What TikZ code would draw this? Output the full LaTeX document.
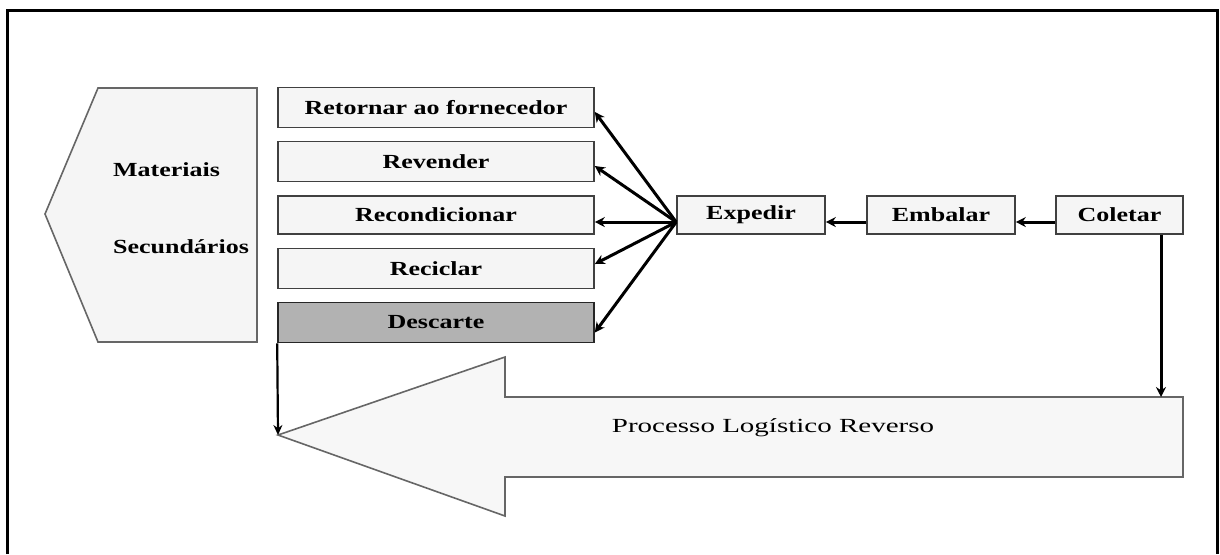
\documentclass[tikz,border=0pt]{standalone}
\usepackage{fontspec}
\usepackage{graphicx}
\setmainfont{Liberation Serif}
\usetikzlibrary{arrows.meta}

% wide bold lettering used in every box
\newcommand{\widetxt}[1]{\scalebox{1.3}[1]{\bfseries #1}}

\tikzset{
  stagebox/.style={draw=black!75, line width=0.8pt, fill=black!4, rectangle,
    inner sep=0pt, minimum height=20pt, font=\fontsize{10}{12}\selectfont},
  flow/.style={line width=1.5pt, -{Stealth[length=5pt,width=5pt]}},
}

\begin{document}
\begin{tikzpicture}[x=0.5pt,y=-0.5pt]
  \useasboundingbox (0,0) rectangle (1220,554);

  % outer frame, open at the bottom
  \draw[line width=1.5pt] (7.5,554) -- (7.5,10.5) -- (1217,10.5) -- (1217,554);

  % secondary materials block
  \draw[draw=black!60, line width=0.8pt, fill=black!4]
    (98,88) -- (257,88) -- (257,342) -- (98,342) -- (45,214) -- cycle;
  \node[anchor=west, font=\fontsize{10}{12}\selectfont] (mat) at (106,170) {\widetxt{Materiais}};
  \node[anchor=west, font=\fontsize{10}{12}\selectfont] (sec) at (106,247) {\widetxt{Secundários}};

  % destinations
  \node[stagebox, minimum width=158pt] (ret) at (436,107.5) {\widetxt{Retornar ao fornecedor}};
  \node[stagebox, minimum width=158pt] (rev) at (436,161.5) {\widetxt{Revender}};
  \node[stagebox, minimum width=158pt, minimum height=19pt] (rec) at (436,215) {\widetxt{Recondicionar}};
  \node[stagebox, minimum width=158pt] (cic) at (436,268.5) {\widetxt{Reciclar}};
  \node[stagebox, minimum width=158pt, fill=black!30, draw=black!85] (des) at (436,322.5) {\widetxt{Descarte}};

  % collection chain
  \node[stagebox, minimum width=74pt, minimum height=19pt] (exp) at (751,215) {\widetxt{Expedir}};
  \node[stagebox, minimum width=74pt, minimum height=19pt] (emb) at (941,215) {\widetxt{Embalar}};
  \node[stagebox, minimum width=63.5pt, minimum height=19pt] (col) at (1119.5,215) {\widetxt{Coletar}};

  % big reverse-flow arrow
  \coordinate (tip) at (278,435);
  \coordinate (shaft) at (1161,397);
  \draw[draw=black!60, line width=0.8pt, fill=black!3]
    (tip) -- (505,357) -- (505,397) -- (1183,397) -- (1183,477)
    -- (505,477) -- (505,516) -- cycle;
  \node[font=\fontsize{10}{12}\selectfont] (plr) at (773,428)
    {\scalebox{1.45}[1]{Processo Logístico Reverso}};

  % connectors
  \draw[flow] ([yshift=-3.5pt]col.west) -- ([yshift=-3.5pt]emb.east);
  \draw[flow] ([yshift=-3.5pt]emb.west) -- ([yshift=-3.5pt]exp.east);
  \coordinate (hub) at ([yshift=-3.5pt]exp.west);
  \draw[flow] (hub) -- ([yshift=-2.25pt]ret.east);
  \draw[flow] (hub) -- ([yshift=-2.25pt]rev.east);
  \draw[flow] (hub) -- ([yshift=-3.5pt]rec.east);
  \draw[flow] (hub) -- ([yshift=2.25pt]cic.east);
  \draw[flow] (hub) -- ([yshift=-5pt]des.east);
  \draw[flow] (col.south -| shaft) -- (shaft);
  \draw[line width=1.1pt, -{Stealth[length=5pt,width=4.5pt]}] (des.south west) -- (tip);
\end{tikzpicture}
\end{document}
